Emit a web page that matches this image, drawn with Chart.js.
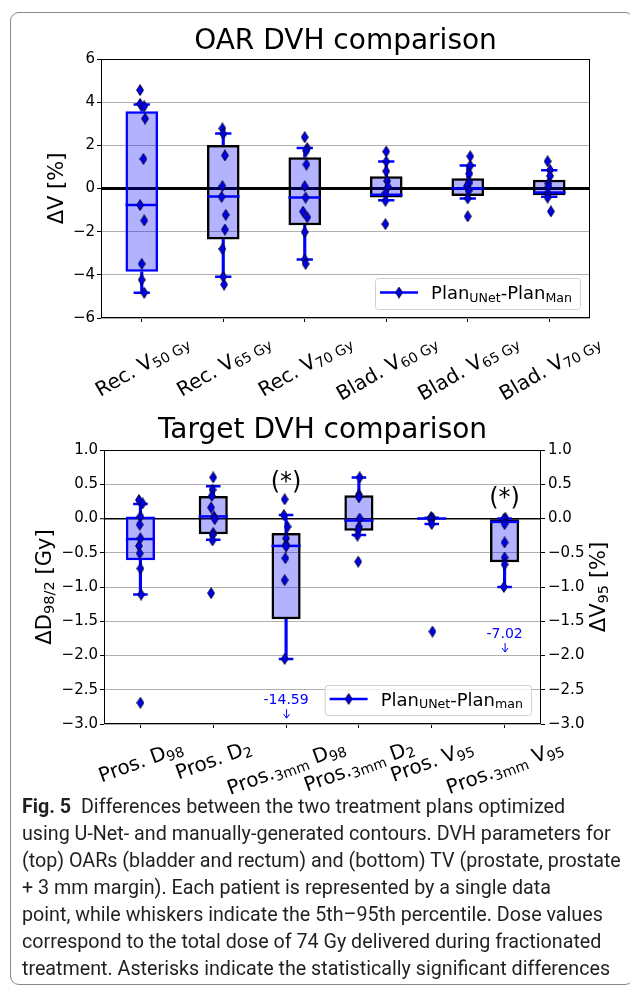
<!DOCTYPE html>
<html>
<head>
<meta charset="utf-8">
<script src="https://cdn.jsdelivr.net/npm/chart.js@4.4.1/dist/chart.umd.min.js"></script>
<style>
  html, body { margin: 0; padding: 0; background: #fff; overflow: hidden; }
  body { width: 630px; height: 987px; position: relative; }
  #frame { position: absolute; left: 10px; top: 12px; width: 624px; height: 973px;
           border: 1px solid #888; border-radius: 9px; box-sizing: border-box; }
  canvas { position: absolute; left: 0; }
  #oar { top: 0; }
  #tv { top: 400px; }
  #caption { position: absolute; left: 22px; top: 793px; font-family: Roboto, 'Noto Sans', sans-serif;
             font-size: 19.7px; line-height: 27px; color: #231f20; white-space: nowrap; }
</style>
</head>
<body>
<div id="frame"></div>
<canvas id="oar" width="630" height="410"></canvas>
<canvas id="tv" width="630" height="400"></canvas>
<div id="caption">
  <div><b>Fig. 5</b>&nbsp; Differences between the two treatment plans optimized</div>
  <div>using U-Net- and manually-generated contours. DVH parameters for</div>
  <div>(top) OARs (bladder and rectum) and (bottom) TV (prostate, prostate</div>
  <div>+ 3 mm margin). Each patient is represented by a single data</div>
  <div>point, while whiskers indicate the 5th–95th percentile. Dose values</div>
  <div>correspond to the total dose of 74 Gy delivered during fractionated</div>
  <div>treatment. Asterisks indicate the statistically significant differences</div>
</div>
<script>
const FONT = "'DejaVu Sans', sans-serif";

// ---- top panel: organs at risk (ΔV in %) ----
const oarCategories = ['Rec. V_{50 Gy}', 'Rec. V_{65 Gy}', 'Rec. V_{70 Gy}',
                       'Blad. V_{60 Gy}', 'Blad. V_{65 Gy}', 'Blad. V_{70 Gy}'];
const oarQ1     = [-3.86, -2.36, -1.70, -0.42, -0.35, -0.31];
const oarMedian = [-0.77, -0.37, -0.42, -0.29,  0.00, -0.18];
const oarQ3     = [ 3.58,  2.01,  1.45,  0.57,  0.48,  0.40];
const oarWhisLo = [-4.83, -4.09, -3.29, -0.54, -0.46, -0.38];
const oarWhisHi = [ 3.89,  2.55,  1.88,  1.25,  1.06,  0.85];
const oarPoints = [
  [4.56, 3.92, 3.81, 3.24, 1.37, -0.77, -1.48, -3.49, -4.23, -4.83],
  [2.78, 2.53, 1.53, 0.11, -0.39, -1.22, -1.90, -2.80, -4.09, -4.45],
  [2.38, 1.87, 1.76, 1.11, 0.11, -0.42, -1.07, -1.33, -2.02, -3.29, -3.49],
  [1.71, 1.25, 0.80, 0.35, 0.08, -0.22, -0.57, -1.65],
  [1.49, 1.06, 0.69, 0.28, 0.12, -0.11, -0.46, -1.29],
  [1.26, 0.86, 0.58, 0.23, 0.08, -0.22, -0.42, -1.06]
];
const oarJitter = [
  [-0.02, -0.02, 0.03, 0.04, 0.02, -0.02, 0.03, 0, 0, 0.03],
  [-0.01, 0, 0.02, -0.01, -0.02, 0.03, 0.02, -0.01, 0, 0.01],
  [0, 0.03, 0.02, 0.02, 0, 0.01, -0.02, 0.03, 0, 0, 0.01],
  [0, 0, 0, 0.01, 0.02, -0.01, -0.01, -0.01],
  [0.03, 0.03, 0.02, 0.02, -0.01, 0.01, 0, 0],
  [-0.02, 0.01, 0.01, -0.01, -0.01, -0.02, -0.02, 0.02]
];
const oarTicks = [-6, 6, 2];

// ---- bottom panel: target volumes (ΔD in Gy / ΔV in %) ----
const tvCategories = ['Pros. D_{98}', 'Pros. D_{2}', 'Pros._{3mm} D_{98}',
                      'Pros._{3mm} D_{2}', 'Pros. V_{95}', 'Pros._{3mm} V_{95}'];
const tvQ1     = [-0.61, -0.23, -1.47, -0.18, -0.01, -0.64];
const tvMedian = [-0.30,  0.03, -0.40, -0.03,  0.00, -0.05];
const tvQ3     = [ 0.03,  0.33, -0.21,  0.34,  0.01, -0.01];
const tvWhisLo = [-1.11, -0.31, -2.05, -0.24, -0.08, -1.00];
const tvWhisHi = [ 0.21,  0.47,  0.05,  0.60,  0.01,  0.00];
const tvPoints = [
  [0.27, 0.22, 0.03, -0.09, -0.29, -0.40, -0.51, -0.73, -1.11, -2.69],
  [0.60, 0.42, 0.33, 0.16, 0.03, -0.01, -0.21, -0.24, -0.32, -1.09],
  [0.28, 0.05, -0.12, -0.29, -0.38, -0.41, -0.58, -0.90, -2.05, -14.59],
  [0.60, 0.35, 0.31, 0.00, -0.12, -0.17, -0.25, -0.63],
  [0.02, 0.01, 0.00, -0.02, -0.08, -1.65],
  [0.01, -0.01, -0.08, -0.35, -0.57, -0.67, -1.00, -7.02]
];
const tvJitter = [
  [-0.02, 0.03, 0, -0.01, 0, -0.02, -0.01, 0, 0.01, 0],
  [0, -0.01, -0.02, -0.03, 0.01, 0.02, 0, -0.01, -0.01, -0.03],
  [-0.02, -0.03, 0.02, 0, 0, 0, -0.01, -0.02, -0.02, 0],
  [0.01, 0, 0, 0.01, 0, -0.01, -0.02, -0.01],
  [-0.01, 0.01, 0, -0.01, 0, 0.01],
  [0.01, -0.01, 0, 0, 0, 0, -0.01, 0]
];
const tvTicks = [-3, 1, 0.5];
const tvSignificant = [2, 5];

const boxFill = 'rgba(0,0,255,0.3)';
const boxEdges = ['#0000ff', '#000', '#000', '#000', '#000', '#000'];

// "_{...}" marks a subscript
function parseRich(s) {
  return s.split(/(_\{[^}]*\})/).filter(p => p).map(p =>
    p.startsWith('_{') ? { t: p.slice(2, -1), sub: true } : { t: p, sub: false });
}
function richWidth(c, parts, size) {
  let w = 0;
  parts.forEach(p => { c.font = (p.sub ? size * 0.7 : size) + 'px ' + FONT; w += c.measureText(p.t).width; });
  return w;
}
function drawRich(c, parts, x, y, size, color) {
  c.fillStyle = color;
  c.textAlign = 'left';
  c.textBaseline = 'alphabetic';
  parts.forEach(p => {
    c.font = (p.sub ? size * 0.7 : size) + 'px ' + FONT;
    c.fillText(p.t, x, y + (p.sub ? size * 0.16 : 0));
    x += c.measureText(p.t).width;
  });
}
function drawVertical(c, text, x, cy, size) {
  const parts = parseRich(text);
  const w = richWidth(c, parts, size);
  c.save();
  c.translate(x, cy);
  c.rotate(-Math.PI / 2);
  drawRich(c, parts, -w / 2, 0, size, '#000');
  c.restore();
}

function makeDiamond() {
  const d = document.createElement('canvas');
  d.width = 8; d.height = 12;
  const g = d.getContext('2d');
  g.beginPath();
  g.moveTo(4, 0.6); g.lineTo(7.4, 6); g.lineTo(4, 11.4); g.lineTo(0.6, 6); g.closePath();
  g.fillStyle = '#0000ee'; g.fill();
  g.strokeStyle = '#00003a'; g.lineWidth = 1; g.stroke();
  return d;
}
const diamond = makeDiamond();

function fmtTick(dec) {
  return v => (v < -1e-9 ? '\u2212' : '') + Math.abs(v).toFixed(dec);
}

function makeChart(id, d, L) {
  const n = d.categories.length;
  const plotW = 630 - L.padding.left - L.padding.right - L.yWidth - (L.y2Width || 0);
  const boxPx = plotW / n * 0.4;
  const pts = [];
  d.points.forEach((arr, i) => arr.forEach((v, k) => pts.push({ x: i + d.jitter[i][k], y: v })));
  const capSet = vals => ({
    type: 'line', xAxisID: 'x', data: vals, showLine: false, order: 2,
    pointStyle: 'line', pointRadius: boxPx / 4,
    pointBorderColor: '#0000ff', pointBorderWidth: 2.5
  });

  const gridColor = c => (c.tick && Math.abs(c.tick.value) < 1e-9 ? '#000' : '#b0b0b0');
  const gridWidth = c => (c.tick && Math.abs(c.tick.value) < 1e-9 ? L.zeroWidth : 1);
  const tickFont = { family: FONT, size: 15 };

  const scales = {
    x: {
      type: 'category', offset: true,
      afterFit: s => { s.height = L.xHeight; },
      ticks: { display: false },
      grid: { offset: false, drawOnChartArea: false, drawTicks: true, tickLength: 4, tickColor: '#000', color: '#000' },
      border: { display: false }
    },
    // jittered strip points share the category positions through a hidden linear axis
    xj: { type: 'linear', display: false, offset: false, min: -0.5, max: n - 0.5 },
    y: {
      position: 'left', min: d.ticks[0], max: d.ticks[1],
      afterFit: s => { s.width = L.yWidth; },
      ticks: { stepSize: d.ticks[2], font: tickFont, color: '#000', padding: 2, callback: fmtTick(L.decimals) },
      grid: { color: gridColor, lineWidth: gridWidth, tickColor: '#000', tickWidth: 1, tickLength: 4 },
      border: { display: false }
    }
  };
  if (L.y2Title) {
    scales.y2 = {
      position: 'right', min: d.ticks[0], max: d.ticks[1],
      afterFit: s => { s.width = L.y2Width; },
      ticks: { stepSize: d.ticks[2], font: tickFont, color: '#000', padding: 3, callback: fmtTick(L.decimals) },
      grid: { drawOnChartArea: false, tickColor: '#000', tickWidth: 1, tickLength: 4 },
      border: { display: false }
    };
  }

  const panelText = {
    id: 'panelText',
    afterDraw(chart) {
      const c = chart.ctx, a = chart.chartArea;
      c.save();
      // axes frame
      c.strokeStyle = '#000'; c.lineWidth = 1;
      c.strokeRect(Math.round(a.left) + 0.5, Math.round(a.top) + 0.5, Math.round(a.width) - 1, Math.round(a.height) - 1);

      // title
      c.font = L.titleSize + 'px ' + FONT;
      c.fillStyle = '#000'; c.textAlign = 'center'; c.textBaseline = 'alphabetic';
      c.fillText(L.title, (a.left + a.right) / 2, L.titleY);

      // axis titles
      drawVertical(c, L.yTitle, L.yTitleX, (a.top + a.bottom) / 2, 21);
      if (L.y2Title) drawVertical(c, L.y2Title, L.y2TitleX, (a.top + a.bottom) / 2, 21);

      // rotated category labels
      const sx = chart.scales.x, th = L.rot * Math.PI / 180, fs = 20;
      d.categories.forEach((cat, i) => {
        const parts = parseRich(cat);
        const w = richWidth(c, parts, fs);
        const H = w * Math.sin(th) + 1.16 * fs * Math.cos(th);
        c.save();
        c.translate(sx.getPixelForTick(i), L.labelTop + H / 2);
        c.rotate(-th);
        drawRich(c, parts, -w / 2, 0.346 * fs, fs, '#000');
        c.restore();
      });

      // significance markers
      const sy = chart.scales.y;
      (d.significant || []).forEach((i, k) => {
        c.font = '24px ' + FONT; c.fillStyle = '#000'; c.textAlign = 'center';
        c.fillText('(*)', sx.getPixelForTick(i), sy.getPixelForValue(L.starY[k]));
      });

      // labels for points below the axis range
      let off = 0;
      d.points.forEach((arr, i) => {
        const lo = Math.min(...arr);
        if (lo >= d.ticks[0]) return;
        const x = sx.getPixelForTick(i), yv = L.offY[off++];
        c.font = '14px ' + FONT; c.fillStyle = '#0000ff'; c.textAlign = 'center';
        c.fillText(lo.toFixed(2), x, sy.getPixelForValue(yv));
        const y1 = sy.getPixelForValue(yv) + 5, y2 = y1 + 9;
        c.strokeStyle = '#0000ff'; c.lineWidth = 1;
        c.beginPath();
        c.moveTo(x + 0.5, y1); c.lineTo(x + 0.5, y2);
        c.moveTo(x - 2.5, y2 - 4); c.lineTo(x + 0.5, y2); c.lineTo(x + 3.5, y2 - 4);
        c.stroke();
      });

      // legend (lower right)
      const lp = parseRich(L.legend), ls = 18;
      const lw = 5 + 38 + 13 + richWidth(c, lp, ls) + 8, lh = L.legendH;
      const lx = a.right - 10 - lw, ly = a.bottom - 9 - lh;
      c.beginPath();
      c.roundRect(lx + 0.5, ly + 0.5, lw, lh, 3);
      c.fillStyle = 'rgba(255,255,255,0.8)'; c.fill();
      c.strokeStyle = '#d0d0d0'; c.lineWidth = 1; c.stroke();
      const my = ly + lh / 2 - 1;
      c.beginPath(); c.moveTo(lx + 5, my); c.lineTo(lx + 43, my);
      c.strokeStyle = '#0000ff'; c.lineWidth = 2.5; c.stroke();
      c.drawImage(diamond, lx + 24 - diamond.width / 2, my - diamond.height / 2);
      drawRich(c, lp, lx + 56, my + 0.365 * ls, ls, '#000');
      c.restore();
    }
  };

  return new Chart(document.getElementById(id), {
    type: 'bar',
    data: {
      labels: d.categories.map(s => s.replace(/_\{|\}/g, '')),
      datasets: [
        { type: 'scatter', xAxisID: 'xj', data: pts, order: 0,
          pointStyle: diamond, pointRadius: 5 },
        { type: 'line', xAxisID: 'x', data: d.median, showLine: false, order: 1,
          pointStyle: 'line', pointRadius: boxPx / 2,
          pointBorderColor: '#0000ff', pointBorderWidth: 2.5 },
        capSet(d.whisHi),
        capSet(d.whisLo),
        { type: 'bar', xAxisID: 'x', data: d.q1.map((v, i) => [v, d.q3[i]]), order: 3,
          backgroundColor: boxFill, borderColor: boxEdges, borderWidth: 2.5, borderSkipped: false,
          barPercentage: 0.4, categoryPercentage: 1, grouped: false },
        { type: 'bar', xAxisID: 'x', data: d.q3.map((v, i) => [v, d.whisHi[i]]), order: 4,
          backgroundColor: '#0000ff', barThickness: 2.5, grouped: false },
        { type: 'bar', xAxisID: 'x', data: d.whisLo.map((v, i) => [v, d.q1[i]]), order: 4,
          backgroundColor: '#0000ff', barThickness: 2.5, grouped: false }
      ]
    },
    options: {
      responsive: false, animation: false, devicePixelRatio: 1, events: [],
      layout: { padding: L.padding },
      plugins: { legend: { display: false }, tooltip: { enabled: false }, title: { display: false } },
      scales
    },
    plugins: [panelText]
  });
}

makeChart('oar', {
  categories: oarCategories, q1: oarQ1, median: oarMedian, q3: oarQ3,
  whisLo: oarWhisLo, whisHi: oarWhisHi, points: oarPoints, jitter: oarJitter, ticks: oarTicks
}, {
  padding: { left: 0, top: 59, right: 40, bottom: 0 }, yWidth: 101, xHeight: 410 - 318,
  decimals: 0, zeroWidth: 3, title: 'OAR DVH comparison', titleSize: 28, titleY: 49,
  yTitle: 'ΔV [%]', yTitleX: 63, rot: 30, labelTop: 329,
  legend: 'Plan_{UNet}-Plan_{Man}', legendH: 31
});

makeChart('tv', {
  categories: tvCategories, q1: tvQ1, median: tvMedian, q3: tvQ3,
  whisLo: tvWhisLo, whisHi: tvWhisHi, points: tvPoints, jitter: tvJitter, ticks: tvTicks,
  significant: tvSignificant
}, {
  padding: { left: 0, top: 50, right: 0, bottom: 0 }, yWidth: 104, y2Width: 89, xHeight: 400 - 324,
  decimals: 1, zeroWidth: 1.5, title: 'Target DVH comparison', titleSize: 28, titleY: 38,
  yTitle: 'ΔD_{98/2} [Gy]', yTitleX: 51, y2Title: 'ΔV_{95} [%]', y2TitleX: 605,
  rot: 20, labelTop: 335, starY: [0.43, 0.20], offY: [-2.71, -1.745],
  legend: 'Plan_{UNet}-Plan_{man}', legendH: 30
});
</script>
</body>
</html>
